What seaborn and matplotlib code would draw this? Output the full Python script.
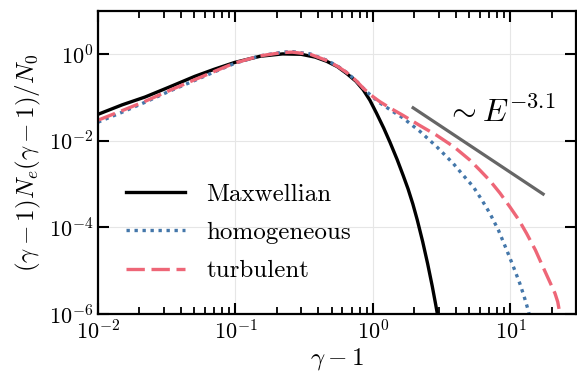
import numpy as np
import pandas as pd
import matplotlib
matplotlib.use("Agg")
import matplotlib.pyplot as plt
import matplotlib.ticker as mticker
import seaborn as sns

# ---- data ----
max_x = [0.01, 0.015, 0.022, 0.033, 0.0507, 0.07, 0.099, 0.151, 0.22, 0.30, 0.38, 0.46, 0.55, 0.644,
         0.75, 0.85, 0.95, 1.06, 1.2, 1.33, 1.5, 1.66, 1.8, 1.95, 2.1, 2.3, 2.5, 2.7, 2.86, 3.0]
max_y = [0.041, 0.068, 0.103, 0.175, 0.31, 0.45, 0.65, 0.90, 1.02, 1.0, 0.86, 0.69, 0.52, 0.36,
         0.24, 0.151, 0.087, 0.044, 0.0195, 0.0093, 0.0037, 0.00158, 7.8e-4, 3.5e-4, 1.5e-4,
         4.7e-5, 1.45e-5, 4.4e-6, 1.66e-6, 7.1e-7]

hom_x = [0.01, 0.015, 0.022, 0.033, 0.0507, 0.07, 0.099, 0.151, 0.22, 0.26, 0.35, 0.46, 0.55, 0.644,
         0.75, 0.85, 0.93, 1.02, 1.125, 1.35, 1.65, 2.2, 2.9, 3.84, 4.5, 5.37, 6.2, 7.1, 8.2, 9.4, 10.5,
         11.7, 12.6, 13.5, 14.0]
hom_y = [0.027, 0.046, 0.078, 0.14, 0.25, 0.39, 0.62, 0.92, 1.12, 1.15, 1.02, 0.73, 0.54, 0.38,
         0.25, 0.165, 0.125, 0.097, 0.075, 0.051, 0.034, 0.0165, 0.0074, 0.0030, 0.00165, 8.7e-4,
         4.3e-4, 2.1e-4, 8.5e-5, 3e-5, 1.25e-5, 5.1e-6, 2.5e-6, 1.2e-6, 7e-7]

tur_x = [0.01, 0.015, 0.022, 0.033, 0.0507, 0.07, 0.099, 0.151, 0.22, 0.26, 0.35, 0.46, 0.55, 0.644,
         0.75, 0.85, 0.93, 1.02, 1.125, 1.35, 1.65, 2.2, 2.9, 3.9, 5.07, 6.0, 7.1, 8.4, 9.9, 11.5, 13.1,
         15.2, 17.3, 19.3, 21.1, 22.1, 22.8, 23.3]
tur_y = [0.030, 0.050, 0.082, 0.145, 0.26, 0.40, 0.63, 0.92, 1.10, 1.12, 1.0, 0.72, 0.53, 0.38,
         0.25, 0.165, 0.127, 0.1, 0.08, 0.056, 0.039, 0.0225, 0.0135, 0.0072, 0.0036, 0.0021, 1.2e-3,
         6.2e-4, 3e-4, 1.5e-4, 7.3e-5, 3.0e-5, 1.2e-5, 5.6e-6, 3.0e-6, 1.9e-6, 1.1e-6, 7e-7]

pl_x = [1.96, 17.3]
pl_y = [0.058, 5.9e-4]

labels = ["Maxwellian", "homogeneous", "turbulent"]
xlabel = r"$\gamma - 1$"
ylabel = r"$(\gamma-1)N_e(\gamma-1)/N_0$"
annot = r"$\sim E^{-3.1}$"

x_major = [1e-2, 1e-1, 1e0, 1e1]
x_minor = [k * 10.0 ** e for e in (-2, -1, 0, 1) for k in range(2, 10) if k * 10.0 ** e < 30]
y_major = [1e-6, 1e-4, 1e-2, 1e0]

# ---- style ----
plt.rcParams.update({
    "font.family": "serif",
    "font.serif": ["cmr10", "DejaVu Serif"],
    "mathtext.fontset": "cm",
    "axes.formatter.use_mathtext": True,
    "axes.unicode_minus": True,
})

fig, ax = plt.subplots(figsize=(5.77, 3.77), dpi=100)
fig.subplots_adjust(left=98/577, right=576/577, bottom=1-314/377, top=1-11/377)

ax.plot(max_x, max_y, color="black", lw=2.4, label=labels[0])
ax.plot(hom_x, hom_y, color="#4477AA", lw=2.4, ls=(0, (1, 1.4)), label=labels[1])
ax.plot(tur_x, tur_y, color="#EE6677", lw=2.4, ls=(0, (5.5, 2)), label=labels[2])
sns.lineplot(x=pl_x, y=pl_y, ax=ax, color="#666666", lw=2.3, sort=False, legend=False)

ax.set_xscale("log")
ax.set_yscale("log")
ax.set_xlim(1e-2, 30)
ax.set_ylim(1e-6, 10)

ax.yaxis.set_major_locator(mticker.FixedLocator(y_major))
ax.yaxis.set_minor_locator(mticker.NullLocator())
ax.xaxis.set_major_locator(mticker.FixedLocator(x_major))
ax.xaxis.set_minor_locator(mticker.FixedLocator(x_minor))
ax.xaxis.set_minor_formatter(mticker.NullFormatter())

ax.grid(True, which="major", color="#e6e6e6", lw=0.8)
ax.tick_params(which="both", direction="in", top=True, right=True, colors="black")
ax.tick_params(which="major", length=8, width=1.5, labelsize=16)
ax.tick_params(which="minor", length=5, width=1.3)
for s in ax.spines.values():
    s.set_linewidth(1.6)

ax.set_xlabel(xlabel, fontsize=18, labelpad=2)
ax.set_ylabel(ylabel, fontsize=18, labelpad=4)

ax.text(8.53, 0.046, annot, fontsize=23, ha="center", va="center")

ax.legend(loc="lower left", bbox_to_anchor=(0.012, 0.03), frameon=False,
          fontsize=18, handlelength=2.36, handletextpad=0.84, labelspacing=0.63)

fig.savefig("out.png", dpi=100)
